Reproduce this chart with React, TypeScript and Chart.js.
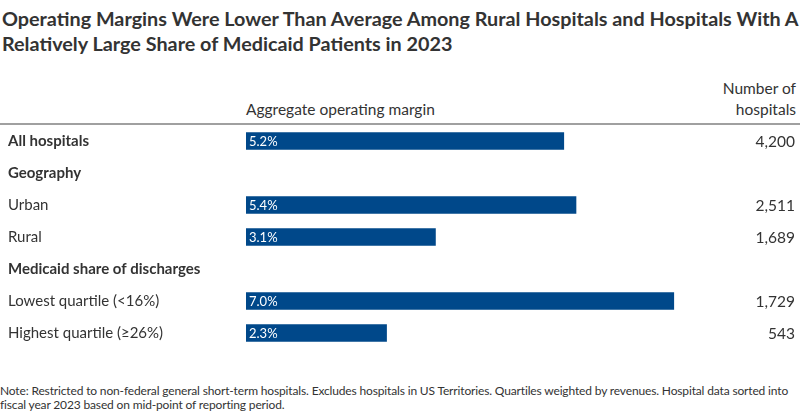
import React, { useEffect, useRef } from "react";
import { Chart, registerables } from "chart.js";

Chart.register(...registerables);

const FONT = "Lato, 'Noto Sans', sans-serif";
const TEXT = "#333333";
const BAR = "#00488a";

const titleLines = [
  "Operating Margins Were Lower Than Average Among Rural Hospitals and Hospitals With A",
  "Relatively Large Share of Medicaid Patients in 2023",
];
const noteLines = [
  "Note: Restricted to non-federal general short-term hospitals. Excludes hospitals in US Territories. Quartiles weighted by revenues. Hospital data sorted into",
  "fiscal year 2023 based on mid-point of reporting period.",
];
const marginHeader = "Aggregate operating margin";
const countHeader = ["Number of", "hospitals"];

const categories = [
  "All hospitals",
  "Geography",
  "Urban",
  "Rural",
  "Medicaid share of discharges",
  "Lowest quartile (<16%)",
  "Highest quartile (≥26%)",
];
const boldRows = [true, true, false, false, true, false, false];
const marginValues: (number | null)[] = [5.2, null, 5.4, 3.1, null, 7.0, 2.3];
const hospitalCounts: (number | null)[] = [4200, null, 2511, 1689, null, 1729, 543];
const axisMax = 9;

const annotate = {
  id: "annotate",
  afterDatasetsDraw(chart: any) {
    const ctx = chart.ctx;
    const meta = chart.getDatasetMeta(0);
    const yScale = chart.scales.y;
    ctx.save();
    ctx.font = `13px ${FONT}`;
    ctx.textBaseline = "middle";
    meta.data.forEach((bar: any, i: number) => {
      const v = marginValues[i];
      if (v == null) return;
      ctx.fillStyle = "#ffffff";
      ctx.textAlign = "left";
      ctx.fillText(v.toFixed(1) + "%", bar.base + 3, bar.y + 1);
    });
    ctx.font = `15.5px ${FONT}`;
    hospitalCounts.forEach((n, i) => {
      if (n == null) return;
      ctx.fillStyle = TEXT;
      ctx.textAlign = "right";
      ctx.fillText(n.toLocaleString("en-US"), chart.chartArea.right - 1, yScale.getPixelForValue(i) + 1);
    });
    ctx.restore();
  },
};

export default function App() {
  const ref = useRef<HTMLCanvasElement | null>(null);

  useEffect(() => {
    document.body.style.margin = "0";
    if (!ref.current) return;
    const chart = new Chart(ref.current, {
      type: "bar",
      data: {
        labels: categories,
        datasets: [
          {
            data: marginValues as any,
            backgroundColor: BAR,
            barThickness: 17,
          },
        ],
      },
      options: {
        indexAxis: "y",
        responsive: false,
        animation: false,
        layout: { padding: { left: 8, right: 4, top: 0, bottom: 0 } },
        plugins: { legend: { display: false }, tooltip: { enabled: false } },
        scales: {
          x: { display: false, min: 0, max: axisMax },
          y: {
            grid: { display: false },
            border: { display: false },
            afterFit(scale: any) {
              scale.width = 238;
              scale.paddingTop = 0;
              scale.paddingBottom = 0;
            },
            ticks: {
              autoSkip: false,
              crossAlign: "far",
              color: TEXT,
              font: (c: any) => ({
                family: FONT,
                size: 15,
                weight: boldRows[c.index] ? "bold" : "normal",
              }),
            },
          },
        },
      },
      plugins: [annotate],
    });
    return () => chart.destroy();
  }, []);

  return (
    <div style={{ position: "relative", width: 800, height: 419, fontFamily: FONT, color: TEXT, overflow: "hidden", background: "#fff" }}>
      <div style={{ position: "absolute", left: 2, top: 6, width: 800, fontSize: 19.8, fontWeight: 700, lineHeight: "25px", whiteSpace: "nowrap" }}>
        {titleLines[0]}
        <br />
        {titleLines[1]}
      </div>
      <div style={{ position: "absolute", left: 246, top: 99, fontSize: 15.5, lineHeight: "20px" }}>{marginHeader}</div>
      <div style={{ position: "absolute", right: 4, top: 78, fontSize: 15.5, lineHeight: "21px", textAlign: "right" }}>
        {countHeader[0]}
        <br />
        {countHeader[1]}
      </div>
      <div style={{ position: "absolute", left: 0, top: 123, width: 800, height: 2, background: "#a0a0a0" }} />
      <canvas ref={ref} width={800} height={224} style={{ position: "absolute", left: 0, top: 125 }} />
      <div style={{ position: "absolute", left: 0, top: 384, width: 800, fontSize: 12, letterSpacing: "-0.15px", lineHeight: "14px", whiteSpace: "nowrap" }}>
        {noteLines[0]}
        <br />
        {noteLines[1]}
      </div>
    </div>
  );
}
